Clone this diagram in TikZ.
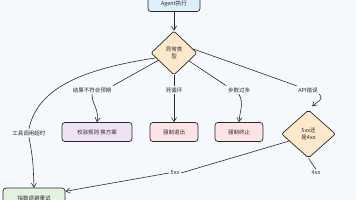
\documentclass[tikz,border=0pt]{standalone}
\usepackage{fontspec}
\setmainfont{Noto Sans CJK SC}
\usetikzlibrary{shapes.geometric,arrows.meta}
\definecolor{bgcol}{HTML}{F5F9FD}
\definecolor{bluef}{HTML}{DCEFFB}
\definecolor{purpf}{HTML}{EFE2F5}
\definecolor{pinkf}{HTML}{FDE3E6}
\definecolor{peachf}{HTML}{FDE8CC}
\definecolor{greenf}{HTML}{E2F2DE}
\definecolor{inkc}{HTML}{2A2A2A}
\tikzset{
  box/.style={draw=inkc, line width=0.7pt, rounded corners=3pt, minimum height=19pt, inner sep=1pt, text=inkc},
  dia/.style={draw=inkc, line width=0.7pt, diamond, fill=peachf, inner sep=0pt, align=center, text=inkc, rounded corners=2pt},
  lab/.style={inner sep=1.5pt, text=inkc},
  ln/.style={draw=inkc, line width=0.6pt},
  arr/.style={ln, -{Straight Barb[length=4pt,width=5pt]}},
}
\begin{document}
\begin{tikzpicture}[x=1pt,y=-1pt, font=\fontsize{5.5}{7}\selectfont]
\fill[bgcol] (0,0) rectangle (356,200);
\useasboundingbox (0,0) rectangle (356,200);

\node[box, fill=bluef, minimum width=52pt, minimum height=15pt] (start) at (174,4) {Agent执行};
\node[dia, minimum width=46pt, minimum height=44pt] (type) at (174,53) {异常类\\型};

\node[lab] (l1) at (92,90) {结果不符合预期};
\node[lab] (l2) at (174,90) {死循环};
\node[lab] (l3) at (239,90) {步数过多};
\node[lab] (l4) at (308,90) {API错误};
\node[lab] (l5) at (29,133) {工具调用超时};
\node[lab] (l6) at (175,173) {5xx};
\node[lab] (l7) at (316,173) {4xx};

\node[box, fill=purpf, minimum width=70pt] (b1) at (97,132) {校验规则 换方案};
\node[box, fill=pinkf, minimum width=48pt] (b2) at (174,132) {强制退出};
\node[box, fill=pinkf, minimum width=48pt] (b3) at (239,132) {强制终止};
\node[dia, minimum width=54pt, minimum height=48pt] (d2) at (308.5,134) {5xx还\\是4xx};
\node[box, fill=greenf, minimum width=62pt, minimum height=20pt] (b4) at (34,198) {指数退避重试};

\draw[arr] (start) -- (type.north);

\draw[ln] (type.195) .. controls (90,68) and (38,85) .. (l5.north);
\draw[arr] (l5.south) .. controls (33,160) .. (b4.north);

\draw[ln] (type.205) -- (l1.north east);
\draw[arr] (l1.south) .. controls (92,105) and (99,108) .. (b1.north);

\draw[ln] (type.south) -- (l2.north);
\draw[arr] (l2.south) -- (b2.north);

\draw[ln] (type.-28) -- (l3.north west);
\draw[arr] (l3.south) .. controls (244,104) and (240,110) .. (b3.north);

\draw[ln] (type.12) -- (l4.north west);
\draw[arr, shorten >=5pt] (l4.south east) .. controls (324,100) and (318,101) .. (d2.north);

\draw[ln] (d2.200) -- (l6.east);
\draw[arr] (l6.west) -- (b4.12);
\draw[ln] (d2.south) -- (l7.north);
\end{tikzpicture}
\end{document}
